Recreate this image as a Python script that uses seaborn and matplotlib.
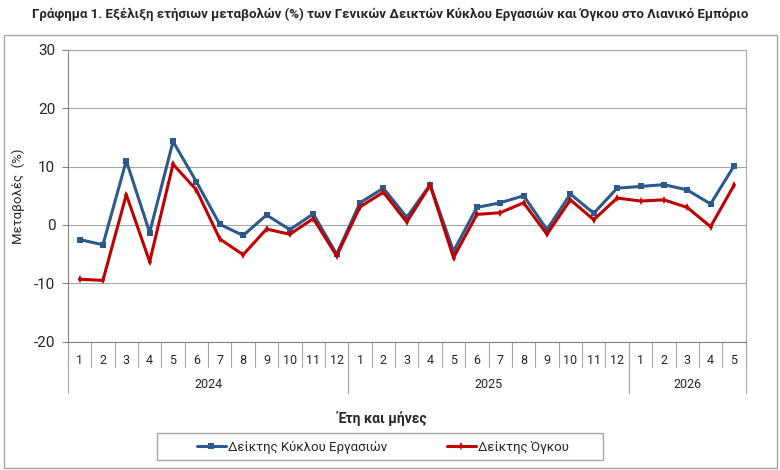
import pandas as pd
import seaborn as sns
import matplotlib.pyplot as plt
from matplotlib.patches import Rectangle
from matplotlib.lines import Line2D

# data
years = ['2024', '2025', '2026']
months_per_year = [12, 12, 5]
turnover = [-2.5, -3.4, 11.0, -1.3, 14.3, 7.4, 0.1, -1.8, 1.7, -0.8, 1.9, -5.0,
            3.8, 6.3, 1.3, 6.9, -4.5, 3.0, 3.8, 5.0, -0.8, 5.3, 2.0, 6.3,
            6.6, 6.9, 6.0, 3.6, 10.1]
volume = [-9.3, -9.5, 5.2, -6.3, 10.4, 6.0, -2.4, -5.1, -0.7, -1.6, 1.1, -5.3,
          3.1, 5.6, 0.5, 6.8, -5.6, 1.8, 2.1, 3.8, -1.6, 4.3, 0.9, 4.6,
          4.1, 4.3, 3.0, -0.3, 6.8]
series_names = ['Δείκτης Κύκλου Εργασιών', 'Δείκτης Όγκου']
colors = ['#2C5A8C', '#C00000']

month_labels = [str(m) for n in months_per_year for m in range(1, n + 1)]
idx = list(range(len(month_labels)))

df = pd.concat([
    pd.DataFrame({'pos': idx, 'value': turnover, 'series': series_names[0]}),
    pd.DataFrame({'pos': idx, 'value': volume, 'series': series_names[1]}),
])

sns.set_style('white')
plt.rcParams['font.family'] = ['Roboto', 'DejaVu Sans']
plt.rcParams['axes.unicode_minus'] = False

fig = plt.figure(figsize=(7.8, 4.7), dpi=100)
ax = fig.add_axes([0.087, 0.273, 0.869, 0.621])

sns.lineplot(data=df, x='pos', y='value', hue='series', style='series',
             palette=dict(zip(series_names, colors)),
             markers={series_names[0]: 's', series_names[1]: 'd'},
             dashes=False, markersize=4, markeredgewidth=0,
             linewidth=2.2, legend=False, ax=ax, zorder=3)

ax.set_xlim(-0.5, len(idx) - 0.5)
ax.set_ylim(-20, 30)
ax.set_yticks([-20, -10, 0, 10, 20, 30])
ax.yaxis.grid(True, color='#A6A6A6', linewidth=0.8)
ax.tick_params(axis='y', labelsize=11, length=4, width=0.8, color='#808080',
               pad=5, left=True)
ax.set_xticks(idx)
ax.set_xticklabels(month_labels, fontsize=9)
ax.tick_params(axis='x', length=0, pad=9)
ax.set_xlabel('')
ax.set_ylabel('Μεταβολές  (%)', fontsize=9.5)
ax.yaxis.set_label_coords(-0.063, 0.5)
for s in ['top', 'right']:
    ax.spines[s].set_color('#A6A6A6')
for s in ['left', 'bottom']:
    ax.spines[s].set_color('#808080')
for s in ax.spines.values():
    s.set_linewidth(0.8)

# multi-level category axis
trans = ax.get_xaxis_transform()
for i in range(len(idx) + 1):
    ax.plot([i - 0.5, i - 0.5], [0, -0.087], transform=trans, clip_on=False,
            color='#A6A6A6', lw=0.8)
start = 0
for yr, n in zip(years, months_per_year):
    for b in (start, start + n):
        ax.plot([b - 0.5, b - 0.5], [0, -0.176], transform=trans, clip_on=False,
                color='#A6A6A6', lw=0.8)
    ax.text(start + (n - 1) / 2, -0.145, yr, transform=trans, ha='center',
            va='center', fontsize=9)
    start += n

fig.text(0.5, 1 - 14 / 470, 'Γράφημα 1. Εξέλιξη ετήσιων μεταβολών (%) των Γενικών '
         'Δεικτών Κύκλου Εργασιών και Όγκου στο Λιανικό Εμπόριο',
         ha='center', va='center', fontsize=9.5, fontweight='bold')
fig.text(0.49, 1 - 419 / 470, 'Έτη και μήνες', ha='center', va='center',
         fontsize=10, fontweight='bold')

# outer frame and legend box
fig.patches.append(Rectangle((4 / 780, 2 / 470), 773 / 780, 433 / 470,
                             transform=fig.transFigure, fill=False,
                             edgecolor='#A6A6A6', lw=1))
fig.patches.append(Rectangle((157 / 780, 1 - 460 / 470), 446 / 780, 27 / 470,
                             transform=fig.transFigure, fill=False,
                             edgecolor='#A6A6A6', lw=1))
handles = [Line2D([], [], color=c, lw=2.2, marker=m, markersize=4, markeredgewidth=0)
           for c, m in zip(colors, ['s', 'd'])]
fig.legend(handles, series_names, loc='center', bbox_to_anchor=(383 / 780, 1 - 447 / 470),
           ncol=2, frameon=False, fontsize=9.5, handlelength=2.2, handletextpad=0.2,
           columnspacing=4.5)

fig.savefig('out.png', dpi=100, facecolor='w')
